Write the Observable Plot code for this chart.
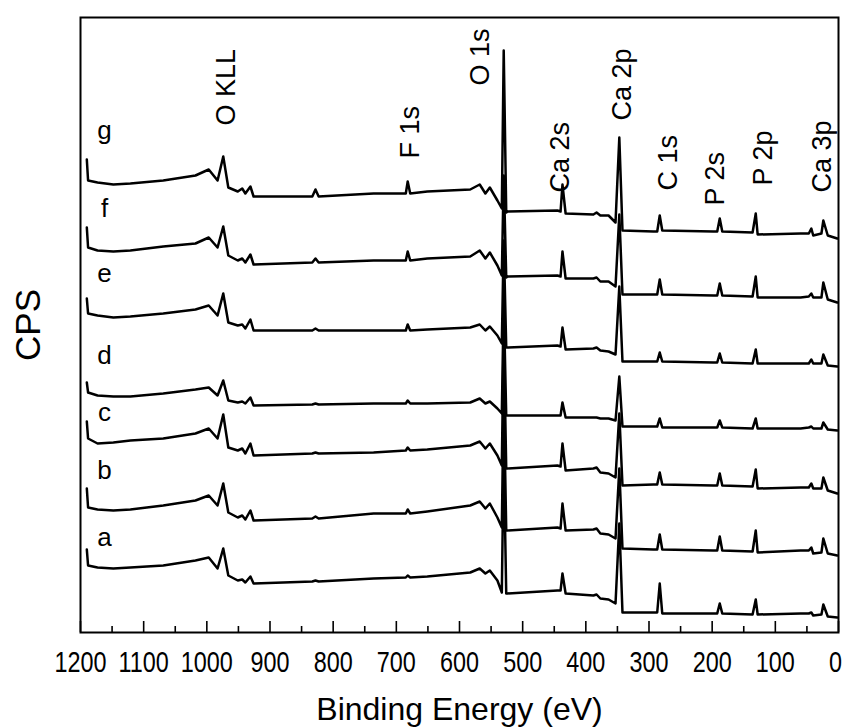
<!DOCTYPE html>
<html>
<head>
<meta charset="utf-8">
<script src="https://cdn.jsdelivr.net/npm/d3@7"></script>
<script src="https://cdn.jsdelivr.net/npm/@observablehq/plot@0.6"></script>
<style>
  html, body { margin: 0; padding: 0; background: #fff; overflow: hidden; }
  #chart svg { display: block; }
</style>
</head>
<body>
<div id="chart"></div>
<script>
// Binding energy grid (eV), shared by all spectra
const energy = [1190,1188,1173,1148,1121,1069,1018,997,983,974,
  966,951,944,939,931,926,833,828,823,736,
  685,682,678,651,583,568,559,552,540,533,
  530,526,524,445,440,437,432,388,383,377,
  364,353,347,342,293,287,283,279,198,192,
  188,184,136,131,128,60,47,43,40,27,
  24,17,2];

// Stacked (offset) intensities, arbitrary CPS units
const g = [473,452,450,448,449,452,457,463,452,476,
  445,441,444,439,446,436,436,443,436,439,
  439,451,439,441,443,448,439,445,432,424,
  582,420,421,422,421,448,419,418,420,417,
  417,410,495,402,401,401,417,402,401,401,
  414,401,400,419,398,399,399,404,397,399,
  412,397,394];
const f = [405,385,382,381,382,386,389,395,385,406,
  377,372,374,370,378,368,370,374,370,372,
  372,381,372,374,376,382,374,380,367,357,
  457,355,356,357,356,381,354,354,355,351,
  351,346,418,338,338,338,353,338,337,337,
  349,337,336,356,335,335,336,339,335,335,
  350,333,330];
const e = [334,319,317,315,316,319,323,327,317,339,
  310,307,308,304,313,302,302,304,302,302,
  302,308,302,303,305,308,302,306,297,289,
  392,285,285,287,286,305,283,284,285,282,
  281,278,346,271,271,271,280,271,270,270,
  279,270,269,283,269,269,269,273,269,269,
  278,267,266];
const d = [250,240,237,236,236,239,243,245,237,252,
  232,230,231,229,235,227,228,229,228,229,
  229,232,229,229,230,234,229,231,224,219,
  332,217,217,217,217,230,215,215,215,214,
  214,212,256,206,206,206,214,205,205,205,
  212,205,204,214,204,204,205,206,204,204,
  210,203,202];
const c = [211,194,189,190,192,194,199,204,194,218,
  185,182,184,179,189,177,179,180,179,180,
  182,185,182,183,187,191,184,189,177,167,
  302,164,164,167,166,189,162,164,165,160,
  159,155,219,147,148,148,160,148,147,147,
  159,147,146,163,144,145,145,149,144,144,
  155,142,139];
const b = [144,125,123,122,123,127,132,137,127,149,
  120,115,117,113,122,112,114,116,114,119,
  119,123,119,121,127,131,124,129,115,105,
  242,102,102,105,104,129,102,103,104,99,
  98,94,164,84,83,83,98,83,82,82,
  96,82,81,102,80,82,82,85,79,80,
  94,79,77];
const a = [83,67,65,64,65,67,72,75,64,84,
  57,52,53,50,56,49,51,52,51,54,
  55,57,55,56,60,64,59,62,52,40,
  182,39,39,42,42,59,39,37,38,34,
  33,29,109,20,20,20,49,19,19,19,
  29,19,18,33,18,19,19,20,17,18,
  28,16,15];

const seriesNames = ["a","b","c","d","e","f","g"];
const seriesValues = [a,b,c,d,e,f,g];
const seriesLabelE = [1162,1162,1162,1162,1162,1162,1162];
const seriesLabelCps = [95,162,220,277,359,424,502];

const peakNames = ["O KLL","F 1s","O 1s","Ca 2s","Ca 2p","C 1s","P 2s","P 2p","Ca 3p"];
const peakE = [969,678,567,440,342,269,195,119,25];
const peakCps = [507,474,547,440,512,442,427,447,440];

const majorTicks = [1200,1100,1000,900,800,700,600,500,400,300,200,100,0];
const minorTicks = [1150,1050,950,850,750,650,550,450,350,250,150,50];
const tickLabels = majorTicks.map(String);

const rows = [];
seriesNames.forEach((s, k) => {
  seriesValues[k].forEach((v, i) => rows.push({s, E: energy[i], cps: v}));
});

const font = "Arial, 'Liberation Sans', Helvetica, sans-serif";
const last = majorTicks.length - 1;

const chart = Plot.plot({
  width: 846,
  height: 728,
  marginTop: 17,
  marginBottom: 96,
  marginLeft: 80,
  marginRight: 8,
  style: {fontFamily: font, color: "black", background: "white"},
  x: {domain: [1200, 0], axis: null},
  y: {domain: [0, 615], axis: null},
  marks: [
    Plot.line(rows, {x: "E", y: "cps", z: "s", stroke: "black", strokeWidth: 2.5, strokeLinejoin: "round"}),
    Plot.axisX(majorTicks, {anchor: "bottom", tickSize: -11, fill: "none", strokeWidth: 1.6}),
    Plot.axisX(minorTicks, {anchor: "bottom", tickSize: -6, fill: "none", strokeWidth: 1.6}),
    Plot.text(tickLabels.slice(0, last), {x: majorTicks.slice(0, last), frameAnchor: "bottom", text: d => d, textAnchor: "middle", lineAnchor: "top", dy: 18, fontSize: 30, fill: "black"}),
    Plot.text(tickLabels.slice(last), {x: majorTicks.slice(last), frameAnchor: "bottom", text: d => d, textAnchor: "middle", lineAnchor: "top", dx: -3, dy: 18, fontSize: 30, fill: "black"}),
    Plot.frame({stroke: "black", strokeWidth: 2}),
    Plot.text(seriesNames, {x: seriesLabelE, y: seriesLabelCps, text: d => d, fontSize: 26}),
    Plot.text(peakNames, {x: peakE, y: peakCps, text: d => d, rotate: -90, textAnchor: "start", fontSize: 27}),
    Plot.text(["CPS"], {frameAnchor: "left", textAnchor: "middle", lineAnchor: "middle", dx: -52, rotate: -90, fontSize: 35}),
    Plot.text(["Binding Energy (eV)"], {frameAnchor: "bottom", textAnchor: "middle", lineAnchor: "bottom", dy: 87, fontSize: 32})
  ]
});
document.getElementById("chart").appendChild(chart);
// condense the numeric tick labels horizontally, as in the original figure
chart.querySelectorAll("text").forEach(t => {
  if (/^\d+$/.test(t.textContent.trim())) {
    const w = t.getComputedTextLength();
    t.setAttribute("textLength", (w * 0.78).toFixed(1));
    t.setAttribute("lengthAdjust", "spacingAndGlyphs");
  }
});
</script>
</body>
</html>
